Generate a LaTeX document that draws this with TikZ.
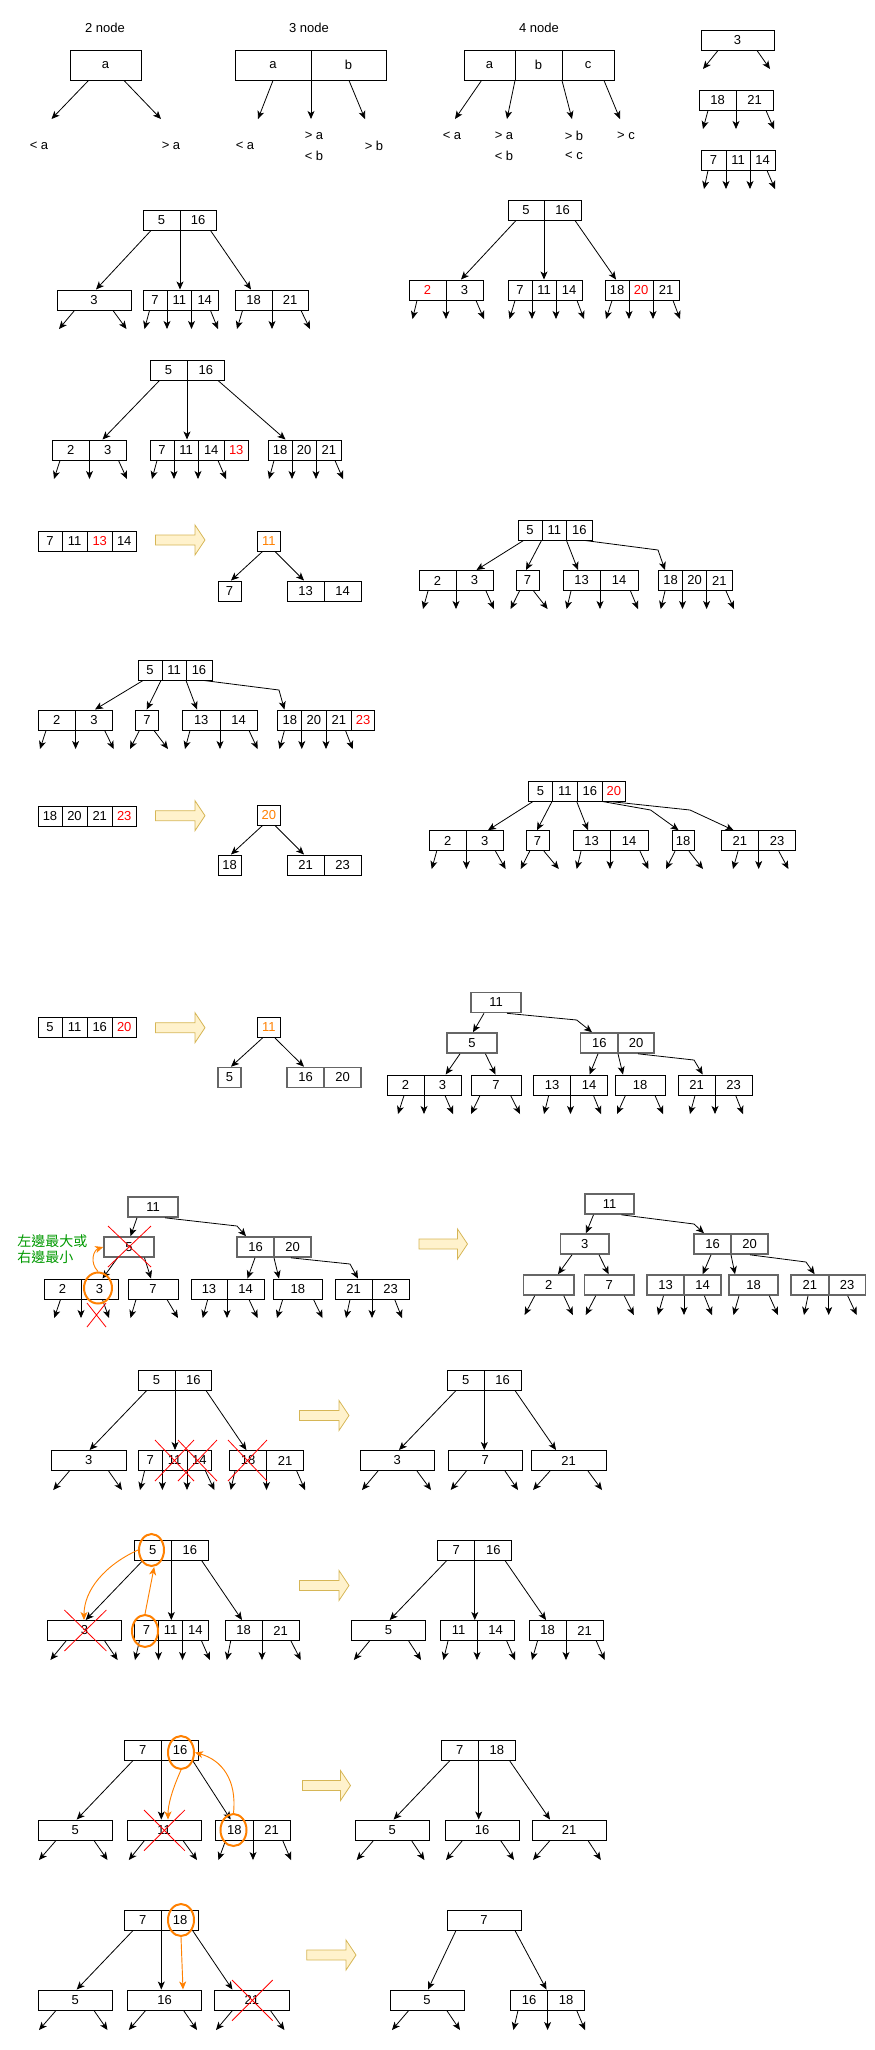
\documentclass[tikz,border=0pt]{standalone}
\usepackage{fontspec}
\setmainfont{Liberation Sans}
\newfontfamily\cjk{Noto Sans CJK TC}
\usetikzlibrary{arrows.meta,shapes.geometric}
\definecolor{myred}{HTML}{FF0000}
\definecolor{myorange}{HTML}{FF8000}
\definecolor{mygreen}{HTML}{009900}
\definecolor{arrfill}{HTML}{FFF2CC}
\definecolor{arrdraw}{HTML}{D6B656}
\definecolor{gbord}{HTML}{666666}
\newcommand\cell[6][]{\node[cellst,minimum width={(#4-#3)*0.75pt},#1] (#2) at ({(#3+#4)/2},#5) {#6};}
\newcommand\ed[4]{\draw[e] (#2,0 |- #1.south) -- (#4,0 |- #3.north);}
\newcommand\lf[4]{\draw[e] (#2,0 |- #1.south) -- (#3,#4);}
\newcommand\bigarr[3]{\filldraw[fill=arrfill,draw=arrdraw,line width=0.6pt] (#1,#3-5) -- (#2-10,#3-5) -- (#2-10,#3-15) -- (#2,#3) -- (#2-10,#3+15) -- (#2-10,#3+5) -- (#1,#3+5) -- cycle;}
\begin{document}
\begin{tikzpicture}[x=0.75pt,y=-0.75pt,font=\fontsize{9.75}{11.5}\selectfont,
  cellst/.style={draw,line width=0.75pt,inner sep=0pt,minimum height=15pt,anchor=center},
  big/.style={minimum height=22.5pt},
  gb/.style={draw=gbord,line width=1.2pt},
  rt/.style={text=myred},
  ot/.style={text=myorange},
  e/.style={-{Stealth[length=6pt,width=5.2pt,inset=1.6pt]},line width=0.6pt},
  lbl/.style={inner sep=0pt},
  orgell/.style={ellipse,draw=myorange,line width=1.5pt,inner sep=0pt},
  orgarr/.style={draw=myorange,line width=0.7pt,-{Stealth[length=6pt,width=5.2pt,inset=1.6pt]}},
  redx/.style={draw=myred,line width=0.6pt},
  grtext/.style={text=mygreen,inner sep=0pt,anchor=west,font=\cjk\fontsize{10.5}{12}\selectfont}]
\useasboundingbox (0,0) rectangle (875,2050);

% ===== Section 1 =====
\node[lbl] (A2t) at (105,28) {2 node};
\node[lbl] (A3t) at (309,28) {3 node};
\node[lbl] (A4t) at (539,28) {4 node};
\cell[big]{A2a}{70}{141}{65}{a}
\lf{A2a}{88.5}{51.5}{119} \lf{A2a}{124}{161}{119}
\node[lbl] (A2l1) at (39,146) {< a};
\node[lbl] (A2l2) at (171,146) {> a};
\cell[big]{A3a}{235}{311}{65}{a} \cell[big]{A3b}{311}{386}{65}{b}
\lf{A3a}{273}{258}{119} \lf{A3a}{311}{311}{119} \lf{A3b}{349}{365}{119}
\node[lbl] (A3l1) at (245,146) {< a};
\node[lbl] (A3l2) at (314,136) {> a};
\node[lbl] (A3l3) at (314,156) {< b};
\node[lbl] (A3l4) at (374,146) {> b};
\cell[big]{A4a}{464}{515}{65}{a} \cell[big]{A4b}{515}{562}{65}{b} \cell[big]{A4c}{562}{614}{65}{c}
\lf{A4a}{481.5}{455}{119} \lf{A4a}{515}{507}{119} \lf{A4b}{562}{572}{119} \lf{A4c}{604}{620}{119}
\node[lbl] (A4l1) at (452,136) {< a};
\node[lbl] (A4l2) at (504,136) {> a};
\node[lbl] (A4l3) at (504,156) {< b};
\node[lbl] (A4l4) at (574,136) {> b};
\node[lbl] (A4l5) at (574,156) {< c};
\node[lbl] (A4l6) at (626,136) {> c};
\cell{A5a}{701}{774}{40}{3}
\lf{A5a}{718}{703}{69} \lf{A5a}{757}{770}{69}
\cell{A6a}{699}{736}{100}{18} \cell{A6b}{736}{773}{100}{21}
\lf{A6a}{708}{703}{129} \lf{A6a}{736}{736}{129} \lf{A6b}{766}{774}{129}
\cell{A7a}{701}{726}{160}{7} \cell{A7b}{726}{750}{160}{11} \cell{A7c}{750}{775}{160}{14}
\lf{A7a}{708}{704}{189} \lf{A7a}{726}{726}{189} \lf{A7b}{750}{750}{189} \lf{A7c}{767}{775}{189}

% ===== Section 2 left =====
\cell{Br1}{143}{180}{220}{5} \cell{Br2}{180}{216}{220}{16}
\cell{Bc1}{57}{131}{300}{3}
\cell{Bc2a}{143}{167}{300}{7} \cell{Bc2b}{167}{191.5}{300}{11} \cell{Bc2c}{191.5}{218}{300}{14}
\cell{Bc3a}{235}{272}{300}{18} \cell{Bc3b}{272}{308}{300}{21}
\ed{Br1}{151}{Bc1}{96} \ed{Br1}{180}{Bc2a}{180} \ed{Br2}{210.5}{Bc3a}{251}
\lf{Bc1}{74.5}{59}{329} \lf{Bc1}{113}{126.5}{329}
\lf{Bc2a}{149.5}{144.5}{329} \lf{Bc2a}{167}{167}{329} \lf{Bc2b}{191.5}{191.5}{329} \lf{Bc2c}{210.5}{218}{329}
\lf{Bc3a}{242.5}{237}{329} \lf{Bc3a}{272}{272}{329} \lf{Bc3b}{301}{310}{329}

% ===== Section 2 right =====
\cell{Cr1}{508}{544}{210}{5} \cell{Cr2}{544}{581}{210}{16}
\cell[rt]{Cc1a}{409}{446}{290}{2} \cell{Cc1b}{446}{483}{290}{3}
\cell{Cc2a}{508}{532}{290}{7} \cell{Cc2b}{532}{556}{290}{11} \cell{Cc2c}{556}{582}{290}{14}
\cell{Cc3a}{605}{629}{290}{18} \cell[rt]{Cc3b}{629}{653}{290}{20} \cell{Cc3c}{653}{679}{290}{21}
\ed{Cr1}{516}{Cc1a}{461} \ed{Cr1}{544}{Cc2a}{544} \ed{Cr2}{575}{Cc3a}{616}
\lf{Cc1a}{417}{412.5}{319} \lf{Cc1a}{446}{446}{319} \lf{Cc1b}{476}{484}{319}
\lf{Cc2a}{515}{509.5}{319} \lf{Cc2a}{532}{532}{319} \lf{Cc2b}{556}{556}{319} \lf{Cc2c}{577}{584}{319}
\lf{Cc3a}{612}{606}{319} \lf{Cc3a}{629}{629}{319} \lf{Cc3b}{653}{653}{319} \lf{Cc3c}{673}{680}{319}

% ===== Section 3 =====
\cell{Dr1}{150}{187}{370}{5} \cell{Dr2}{187}{224.5}{370}{16}
\cell{Dc1a}{52}{89.5}{450}{2} \cell{Dc1b}{89.5}{126}{450}{3}
\cell{Dc2a}{150}{174}{450}{7} \cell{Dc2b}{174}{198}{450}{11} \cell{Dc2c}{198}{224.5}{450}{14} \cell[rt]{Dc2d}{224.5}{248}{450}{13}
\cell{Dc3a}{268}{292}{450}{18} \cell{Dc3b}{292}{316}{450}{20} \cell{Dc3c}{316}{341.5}{450}{21}
\ed{Dr1}{159.5}{Dc1a}{102.5} \ed{Dr1}{187}{Dc2a}{187} \ed{Dr2}{218}{Dc3a}{285.5}
\lf{Dc1a}{60}{54}{479} \lf{Dc1a}{89.5}{89.5}{479} \lf{Dc1b}{118.5}{127}{479}
\lf{Dc2a}{157}{152}{479} \lf{Dc2a}{174}{174}{479} \lf{Dc2b}{198}{198}{479} \lf{Dc2c}{218}{226}{479}
\lf{Dc3a}{274}{269}{479} \lf{Dc3a}{292}{292}{479} \lf{Dc3b}{316}{316}{479} \lf{Dc3c}{335}{343}{479}

% ===== Section 4 =====
\cell{Ea}{38}{62}{541}{7} \cell{Eb}{62}{87}{541}{11} \cell[rt]{Ec}{87}{112.5}{541}{13} \cell{Ed}{112.5}{136}{541}{14}
\bigarr{155.5}{205}{540}
\cell[ot]{Es1}{257.5}{280}{541}{11}
\cell{Es2}{218}{241}{591}{7}
\cell{Es3a}{287}{324}{591}{13} \cell{Es3b}{324}{361}{591}{14}
\ed{Es1}{262.5}{Es2}{231} \ed{Es1}{275}{Es3a}{304}
\cell{Er1}{518}{542}{530}{5} \cell{Er2}{542}{566.5}{530}{11} \cell{Er3}{566.5}{592}{530}{16}
\cell{Ec1a}{419}{456}{580.5}{2} \cell{Ec1b}{456}{493}{580.5}{3}
\cell{Ec2}{516}{539}{580.5}{7}
\cell{Ec3a}{563}{600}{580.5}{13} \cell{Ec3b}{600}{638}{580.5}{14}
\cell{Ec4a}{658.5}{682.5}{580.5}{18} \cell{Ec4b}{682.5}{706.6}{580.5}{20} \cell{Ec4c}{706.6}{732}{580.5}{21}
\ed{Er1}{523.5}{Ec1a}{476.5} \ed{Er1}{541.5}{Ec2}{526} \ed{Er3}{566.5}{Ec3a}{578}
\draw[e] (585,0 |- Er3.south) -- (658,550) -- (665,0 |- Ec4a.north);
\lf{Ec1a}{428}{423}{609} \lf{Ec1a}{456}{456}{609} \lf{Ec1b}{486}{494}{609}
\lf{Ec2}{519.5}{510.6}{609} \lf{Ec2}{533.6}{547.6}{609}
\lf{Ec3a}{571}{566.6}{609} \lf{Ec3a}{600}{600}{609} \lf{Ec3b}{630.5}{638}{609}
\lf{Ec4a}{665}{660.7}{609} \lf{Ec4a}{682.5}{682.5}{609} \lf{Ec4b}{706.6}{706.6}{609} \lf{Ec4c}{726}{734}{609}

% ===== Section 5 =====
\cell{Fr1}{138}{162}{670}{5} \cell{Fr2}{162}{186}{670}{11} \cell{Fr3}{186}{212}{670}{16}
\cell{Fc1a}{38}{75.6}{720}{2} \cell{Fc1b}{75.6}{112.5}{720}{3}
\cell{Fc2}{135.5}{158.5}{720}{7}
\cell{Fc3a}{182.5}{220}{720}{13} \cell{Fc3b}{220}{257}{720}{14}
\cell{Fc4a}{277.7}{301.8}{720}{18} \cell{Fc4b}{301.8}{326}{720}{20} \cell{Fc4c}{326}{351.6}{720}{21} \cell[rt]{Fc4d}{351.6}{374.6}{720}{23}
\ed{Fr1}{143}{Fc1a}{95} \ed{Fr1}{161}{Fc2}{146.7} \ed{Fr3}{186}{Fc3a}{197}
\draw[e] (204,0 |- Fr3.south) -- (279,690) -- (284.4,0 |- Fc4a.north);
\lf{Fc1a}{46}{40}{749} \lf{Fc1a}{75.6}{75.6}{749} \lf{Fc1b}{104.7}{113.7}{749}
\lf{Fc2}{139.4}{130}{749} \lf{Fc2}{154}{168}{749}
\lf{Fc3a}{190}{185}{749} \lf{Fc3a}{220}{220}{749} \lf{Fc3b}{249}{257.6}{749}
\lf{Fc4a}{284.4}{279.4}{749} \lf{Fc4a}{301.8}{301.8}{749} \lf{Fc4b}{326}{326}{749} \lf{Fc4c}{345.5}{352.7}{749}

% ===== Section 6 =====
\cell{Ga}{38}{62}{816}{18} \cell{Gb}{62}{87}{816}{20} \cell{Gc}{87}{112.5}{816}{21} \cell[rt]{Gd}{112.5}{136}{816}{23}
\bigarr{155.5}{205}{815.7}
\cell[ot]{Gs1}{257.5}{280}{815}{20}
\cell{Gs2}{218}{241}{865}{18}
\cell{Gs3a}{287}{324}{865}{21} \cell{Gs3b}{324}{361}{865}{23}
\ed{Gs1}{262.5}{Gs2}{231} \ed{Gs1}{275}{Gs3a}{304}
\cell{Gr1}{528.5}{552.6}{791}{5} \cell{Gr2}{552.6}{577.3}{791}{11} \cell{Gr3}{577.3}{602.5}{791}{16} \cell[rt]{Gr4}{602.5}{625.4}{791}{20}
\cell{Gc1a}{429}{466.4}{840.7}{2} \cell{Gc1b}{466.4}{503}{840.7}{3}
\cell{Gc2}{526}{549}{840.7}{7}
\cell{Gc3a}{573}{610}{840.7}{13} \cell{Gc3b}{610}{648}{840.7}{14}
\cell{Gc4}{672}{694}{840.7}{18}
\cell{Gc5a}{721}{758.7}{840.7}{21} \cell{Gc5b}{758.7}{795.6}{840.7}{23}
\ed{Gr1}{533}{Gc1a}{488} \ed{Gr1}{552}{Gc2}{537} \ed{Gr3}{576.7}{Gc3a}{588}
\draw[e] (602.5,0 |- Gr4.south) -- (650.6,810) -- (678.6,0 |- Gc4.north);
\draw[e] (610,0 |- Gr4.south) -- (690,810) -- (733.5,0 |- Gc5a.north);
\lf{Gc1a}{436.7}{431.7}{869} \lf{Gc1a}{466.4}{466.4}{869} \lf{Gc1b}{495.5}{505.6}{869}
\lf{Gc2}{529.7}{520.7}{869} \lf{Gc2}{544}{558.8}{869}
\lf{Gc3a}{581}{576.7}{869} \lf{Gc3a}{610}{610}{869} \lf{Gc3b}{640}{648.4}{869}
\lf{Gc4}{675}{666}{869} \lf{Gc4}{689}{703}{869}
\lf{Gc5a}{738}{733}{869} \lf{Gc5a}{758.7}{758.7}{869} \lf{Gc5b}{778.8}{788.4}{869}

% ===== Section 7 =====
\cell{Ha}{38}{62}{1027.5}{5} \cell{Hb}{62}{87}{1027.5}{11} \cell{Hc}{87}{112.5}{1027.5}{16} \cell[rt]{Hd}{112.5}{136}{1027.5}{20}
\bigarr{155.5}{205}{1027.7}
\cell[ot]{Hs1}{257.5}{280}{1027.5}{11}
\cell[gb]{Hs2}{218}{241}{1077.5}{5}
\cell[gb]{Hs3a}{287}{324}{1077.5}{16} \cell[gb]{Hs3b}{324}{361}{1077.5}{20}
\ed{Hs1}{262.5}{Hs2}{231} \ed{Hs1}{275}{Hs3a}{304}
\cell[gb]{Hr}{471}{521}{1002.5}{11}
\cell[gb]{Hm1}{447}{497}{1043}{5}
\cell[gb]{Hm2a}{580.6}{618}{1043}{16} \cell[gb]{Hm2b}{618}{654}{1043}{20}
\cell{Hc1a}{387}{424}{1085}{2} \cell{Hc1b}{424}{461}{1085}{3}
\cell{Hc2}{471}{521}{1085}{7}
\cell{Hc3a}{533.6}{570.5}{1085}{13} \cell{Hc3b}{570.5}{607.5}{1085}{14}
\cell{Hc4}{615}{665}{1085}{18}
\cell{Hc5a}{678}{715}{1085}{21} \cell{Hc5b}{715}{752}{1085}{23}
\ed{Hr}{484}{Hm1}{473}
\draw[e] (507,0 |- Hr.south) -- (576.7,1020) -- (592,0 |- Hm2a.north);
\ed{Hm1}{460}{Hc1a}{445.7} \ed{Hm1}{485.4}{Hc2}{495.5}
\ed{Hm2a}{598}{Hc3b}{589.6} \ed{Hm2a}{618}{Hc4}{623}
\draw[e] (638,0 |- Hm2b.south) -- (694,1060) -- (702.7,0 |- Hc5a.north);
\lf{Hc1a}{404}{398}{1114} \lf{Hc1a}{424}{424}{1114} \lf{Hc1b}{445}{453}{1114}
\lf{Hc2}{480}{471}{1114} \lf{Hc2}{510.6}{520}{1114}
\lf{Hc3a}{548.7}{544}{1114} \lf{Hc3a}{570.5}{570.5}{1114} \lf{Hc3b}{593.5}{601}{1114}
\lf{Hc4}{625.4}{617}{1114} \lf{Hc4}{655}{663}{1114}
\lf{Hc5a}{695}{690}{1114} \lf{Hc5a}{715}{715}{1114} \lf{Hc5b}{735.7}{743}{1114}

% ===== Section 8 left =====
\cell[gb]{Ir}{128}{178}{1207}{11}
\cell[gb]{Im1}{104}{154}{1247}{5}
\cell[gb]{Im2a}{237}{274}{1247}{16} \cell[gb]{Im2b}{274}{311}{1247}{20}
\cell{Ic1a}{44}{81}{1289}{2} \cell{Ic1b}{81}{118}{1289}{3}
\cell{Ic2}{128}{178}{1289}{7}
\cell{Ic3a}{191}{227}{1289}{13} \cell{Ic3b}{227}{264}{1289}{14}
\cell{Ic4}{273}{322.5}{1289}{18}
\cell{Ic5a}{335}{372}{1289}{21} \cell{Ic5b}{372}{409}{1289}{23}
\ed{Ir}{137}{Im1}{130.5}
\draw[e] (165,0 |- Ir.south) -- (237,1226) -- (246,0 |- Im2a.north);
\ed{Im1}{117.6}{Ic1b}{102.5} \ed{Im1}{144.5}{Ic2}{151}
\ed{Im2a}{255}{Ic3b}{247.5} \ed{Im2b}{274}{Ic4}{279}
\draw[e] (291,0 |- Im2b.south) -- (350,1264) -- (358,0 |- Ic5a.north);
\lf{Ic1a}{60.5}{54.3}{1318} \lf{Ic1a}{81}{81}{1318} \lf{Ic1b}{102.5}{109}{1318}
\lf{Ic2}{136}{130.5}{1318} \lf{Ic2}{167}{178}{1318}
\lf{Ic3a}{207.7}{202.7}{1318} \lf{Ic3a}{227}{227}{1318} \lf{Ic3b}{249}{257.6}{1318}
\lf{Ic4}{282.7}{277}{1318} \lf{Ic4}{313.5}{322.5}{1318}
\lf{Ic5a}{350}{346}{1318} \lf{Ic5a}{372}{372}{1318} \lf{Ic5b}{394.7}{402}{1318}
\node[orgell,minimum width=21pt,minimum height=23.25pt] (Ie) at (98,1288) {};
\draw[redx] (108,1226) -- (151,1267) (151,1226) -- (108,1267);
\draw[redx] (87,1303) -- (106,1327) (106,1303) -- (87,1327);
\draw[orgarr] (Ie.north) .. controls (89,1262) and (94,1250) .. (Im1.west);
\node[grtext] (Ig1) at (17,1241) {左邊最大或};
\node[grtext] (Ig2) at (17,1257) {右邊最小};
\bigarr{419}{467.5}{1244}

% ===== Section 8 right =====
\cell[gb]{Jr}{585}{634}{1204}{11}
\cell[gb]{Jm1}{560.5}{609}{1244}{3}
\cell[gb]{Jm2a}{694}{731}{1244}{16} \cell[gb]{Jm2b}{731}{768}{1244}{20}
\cell[gb]{Jc1}{523.5}{574}{1285}{2}
\cell[gb]{Jc2}{584.5}{634}{1285}{7}
\cell[gb]{Jc3a}{647}{684}{1285}{13} \cell[gb]{Jc3b}{684}{721}{1285}{14}
\cell[gb]{Jc4}{729}{778}{1285}{18}
\cell[gb]{Jc5a}{791}{828.7}{1285}{21} \cell[gb]{Jc5b}{828.7}{865.6}{1285}{23}
\ed{Jr}{593.5}{Jm1}{586}
\draw[e] (621.5,0 |- Jr.south) -- (694,1224) -- (704,0 |- Jm2a.north);
\ed{Jm1}{572}{Jc1}{558} \ed{Jm1}{599}{Jc2}{608.6}
\ed{Jm2a}{711}{Jc3b}{702.7} \ed{Jm2b}{731}{Jc4}{735}
\draw[e] (750,0 |- Jm2b.south) -- (806,1262) -- (814.6,0 |- Jc5a.north);
\lf{Jc1}{534.7}{524.6}{1315} \lf{Jc1}{563.8}{572.8}{1315}
\lf{Jc2}{595.7}{585.7}{1315} \lf{Jc2}{624.3}{633.8}{1315}
\lf{Jc3a}{663.5}{658}{1315} \lf{Jc3a}{684}{684}{1315} \lf{Jc3b}{704.4}{712}{1315}
\lf{Jc4}{739}{733.5}{1315} \lf{Jc4}{769.3}{778}{1315}
\lf{Jc5a}{808}{804}{1315} \lf{Jc5a}{828.7}{828.7}{1315} \lf{Jc5b}{847.7}{856.7}{1315}

% ===== Section 9 =====
\cell{Kr1}{138}{175}{1380}{5} \cell{Kr2}{175}{211.6}{1380}{16}
\cell{Kc1}{51.5}{126}{1460.5}{3}
\cell{Kc2a}{138}{162.4}{1460.5}{7} \cell{Kc2b}{162.4}{187}{1460.5}{11} \cell{Kc2c}{187}{211.6}{1460.5}{14}
\cell{Kc3a}{229.6}{266.5}{1460.5}{18} \cell{Kc3b}{266.5}{303.5}{1460.5}{21}
\ed{Kr1}{146.7}{Kc1}{89.6} \ed{Kr1}{175}{Kc2b}{175} \ed{Kr2}{206}{Kc3a}{246.4}
\lf{Kc1}{69.4}{53.2}{1490} \lf{Kc1}{108.6}{122}{1490}
\lf{Kc2a}{144.5}{140}{1490} \lf{Kc2a}{162.4}{162.4}{1490} \lf{Kc2b}{187}{187}{1490} \lf{Kc2c}{205.5}{214.4}{1490}
\lf{Kc3a}{235}{230.7}{1490} \lf{Kc3a}{266.5}{266.5}{1490} \lf{Kc3b}{296.7}{305}{1490}
\draw[redx] (155,1440) -- (194,1481) (194,1440) -- (155,1481);
\draw[redx] (178,1440) -- (217,1481) (217,1440) -- (178,1481);
\draw[redx] (228,1440) -- (267,1481) (267,1440) -- (228,1481);
\bigarr{299.5}{349}{1415.5}
\cell{Lr1}{447}{484.3}{1380}{5} \cell{Lr2}{484.3}{521}{1380}{16}
\cell{Lc1}{360}{434.5}{1460.5}{3}
\cell{Lc2}{448}{522.4}{1460.5}{7}
\cell{Lc3}{531}{606}{1460.5}{21}
\ed{Lr1}{456}{Lc1}{399} \ed{Lr1}{484.3}{Lc2}{484.3} \ed{Lr2}{515}{Lc3}{556}
\lf{Lc1}{378}{362}{1490} \lf{Lc1}{417}{431}{1490}
\lf{Lc2}{466.4}{450.7}{1490} \lf{Lc2}{505}{518}{1490}
\lf{Lc3}{550}{533}{1490} \lf{Lc3}{588}{602}{1490}

% ===== Section 10 =====
\cell{Mr1}{134.4}{171.3}{1550}{5} \cell{Mr2}{171.3}{208.3}{1550}{16}
\cell{Mc1}{47.6}{121.5}{1630.5}{3}
\cell{Mc2a}{134.4}{158.5}{1630.5}{7} \cell{Mc2b}{158.5}{182.5}{1630.5}{11} \cell{Mc2c}{182.5}{208.3}{1630.5}{14}
\cell{Mc3a}{225}{262}{1630.5}{18} \cell{Mc3b}{262}{299}{1630.5}{21}
\ed{Mr1}{142.8}{Mc1}{85.7} \ed{Mr2}{171.3}{Mc2b}{171.3} \ed{Mr2}{201.6}{Mc3a}{242}
\lf{Mc1}{66}{50.4}{1660} \lf{Mc1}{104.7}{117.6}{1660}
\lf{Mc2a}{139.4}{135}{1660} \lf{Mc2a}{158.5}{158.5}{1660} \lf{Mc2b}{182.5}{182.5}{1660} \lf{Mc2c}{201.6}{210}{1660}
\lf{Mc3a}{230.7}{226.8}{1660} \lf{Mc3a}{262}{262}{1660} \lf{Mc3b}{291}{300.7}{1660}
\node[orgell,minimum width=18.75pt,minimum height=24pt] (Me1) at (151.5,1550) {};
\node[orgell,minimum width=19.5pt,minimum height=24pt] (Me2) at (145,1631) {};
\draw[redx] (64.4,1610) -- (106.4,1651) (106.4,1610) -- (64.4,1651);
\draw[orgarr] (Me1.west) .. controls (105,1565) and (84,1590) .. (84,0 |- Mc1.north);
\draw[orgarr] (Me2.north) -- ([xshift=2pt]Me1.south);
\bigarr{299.5}{349}{1585.5}
\cell{Nr1}{437.8}{474.8}{1550}{7} \cell{Nr2}{474.8}{511.8}{1550}{16}
\cell{Nc1}{351.6}{425.5}{1630.5}{5}
\cell{Nc2a}{440}{477}{1630.5}{11} \cell{Nc2b}{477}{514}{1630.5}{14}
\cell{Nc3a}{529}{566}{1630.5}{18} \cell{Nc3b}{566}{603}{1630.5}{21}
\ed{Nr1}{446.8}{Nc1}{389.7} \ed{Nr1}{474.8}{Nc2a}{474.8} \ed{Nr2}{505}{Nc3a}{546}
\lf{Nc1}{369.5}{353.9}{1660} \lf{Nc1}{408.7}{421}{1660}
\lf{Nc2a}{448}{443.4}{1660} \lf{Nc2a}{477}{477}{1660} \lf{Nc2b}{506.7}{515}{1660}
\lf{Nc3a}{537.5}{532}{1660} \lf{Nc3a}{566}{566}{1660} \lf{Nc3b}{596.3}{604.7}{1660}

% ===== Section 11 =====
\cell{Or1}{124.3}{161.3}{1750}{7} \cell{Or2}{161.3}{198.8}{1750}{16}
\cell{Oc1}{38}{112.5}{1830}{5}
\cell{Oc2}{127}{201}{1830}{11}
\cell{Oc3a}{215.6}{253}{1830}{18} \cell{Oc3b}{253}{290}{1830}{21}
\ed{Or1}{133}{Oc1}{76.7} \ed{Or2}{161.3}{Oc2}{161.3} \ed{Or2}{192.6}{Oc3a}{230.7}
\lf{Oc1}{56}{39}{1860} \lf{Oc1}{94}{107.5}{1860}
\lf{Oc2}{144.5}{128.8}{1860} \lf{Oc2}{183}{197}{1860}
\lf{Oc3a}{225.6}{218.4}{1860} \lf{Oc3a}{253}{253}{1860} \lf{Oc3b}{282.7}{291}{1860}
\node[orgell,minimum width=19.5pt,minimum height=24.75pt] (Oe1) at (181,1752.5) {};
\node[orgell,minimum width=19.5pt,minimum height=24pt] (Oe2) at (233.5,1830) {};
\draw[redx] (144,1810) -- (184.8,1850.7) (184.8,1810) -- (144,1850.7);
\draw[orgarr] (Oe1.south) .. controls (172,1790) and (168,1805) .. (168,0 |- Oc2.north);
\draw[orgarr] (Oe2.north) .. controls (237,1780) and (222,1760) .. (Oe1.east);
\bigarr{302.4}{350.5}{1785.5}
\cell{Pr1}{441}{478.7}{1750}{7} \cell{Pr2}{478.7}{515}{1750}{18}
\cell{Pc1}{355}{429.5}{1830}{5}
\cell{Pc2}{445}{519}{1830}{16}
\cell{Pc3}{532}{606}{1830}{21}
\ed{Pr1}{450}{Pc1}{393.6} \ed{Pr1}{478.7}{Pc2}{478.7} \ed{Pr2}{509.5}{Pc3}{550}
\lf{Pc1}{373.5}{356.7}{1860} \lf{Pc1}{411.5}{424.4}{1860}
\lf{Pc2}{462.5}{446}{1860} \lf{Pc2}{500.6}{514}{1860}
\lf{Pc3}{550}{533}{1860} \lf{Pc3}{588}{600.8}{1860}

% ===== Section 12 =====
\cell{Qr1}{124.3}{161.3}{1920}{7} \cell{Qr2}{161.3}{198.8}{1920}{18}
\cell{Qc1}{38}{112.5}{2000}{5}
\cell{Qc2}{127.7}{201.6}{2000}{16}
\cell{Qc3}{214.5}{289}{2000}{21}
\ed{Qr1}{133}{Qc1}{76.7} \ed{Qr2}{161.3}{Qc2}{161.3} \ed{Qr2}{192.6}{Qc3}{232.4}
\lf{Qc1}{56}{39}{2030} \lf{Qc1}{94}{107.5}{2030}
\lf{Qc2}{145.6}{128.8}{2030} \lf{Qc2}{183.6}{197}{2030}
\lf{Qc3}{232.4}{216}{2030} \lf{Qc3}{270.4}{284.4}{2030}
\node[orgell,minimum width=19.5pt,minimum height=24pt] (Qe) at (181,1920) {};
\draw[orgarr] (Qe.south) -- (183,0 |- Qc2.north);
\draw[redx] (232,1980) -- (272.7,2020.7) (272.7,1980) -- (232,2020.7);
\bigarr{306.8}{356}{1955}
\cell{Rr}{447}{521}{1920}{7}
\cell{Rc1}{390}{464}{2000}{5}
\cell{Rc2a}{510.6}{547.6}{2000}{16} \cell{Rc2b}{547.6}{584.5}{2000}{18}
\ed{Rr}{456}{Rc1}{428} \ed{Rr}{515}{Rc2a}{546.5}
\lf{Rc1}{408.7}{392}{2030} \lf{Rc1}{446.8}{460}{2030}
\lf{Rc2a}{518}{513.4}{2030} \lf{Rc2a}{547.6}{547.6}{2030} \lf{Rc2b}{576.7}{585}{2030}
\end{tikzpicture}
\end{document}
